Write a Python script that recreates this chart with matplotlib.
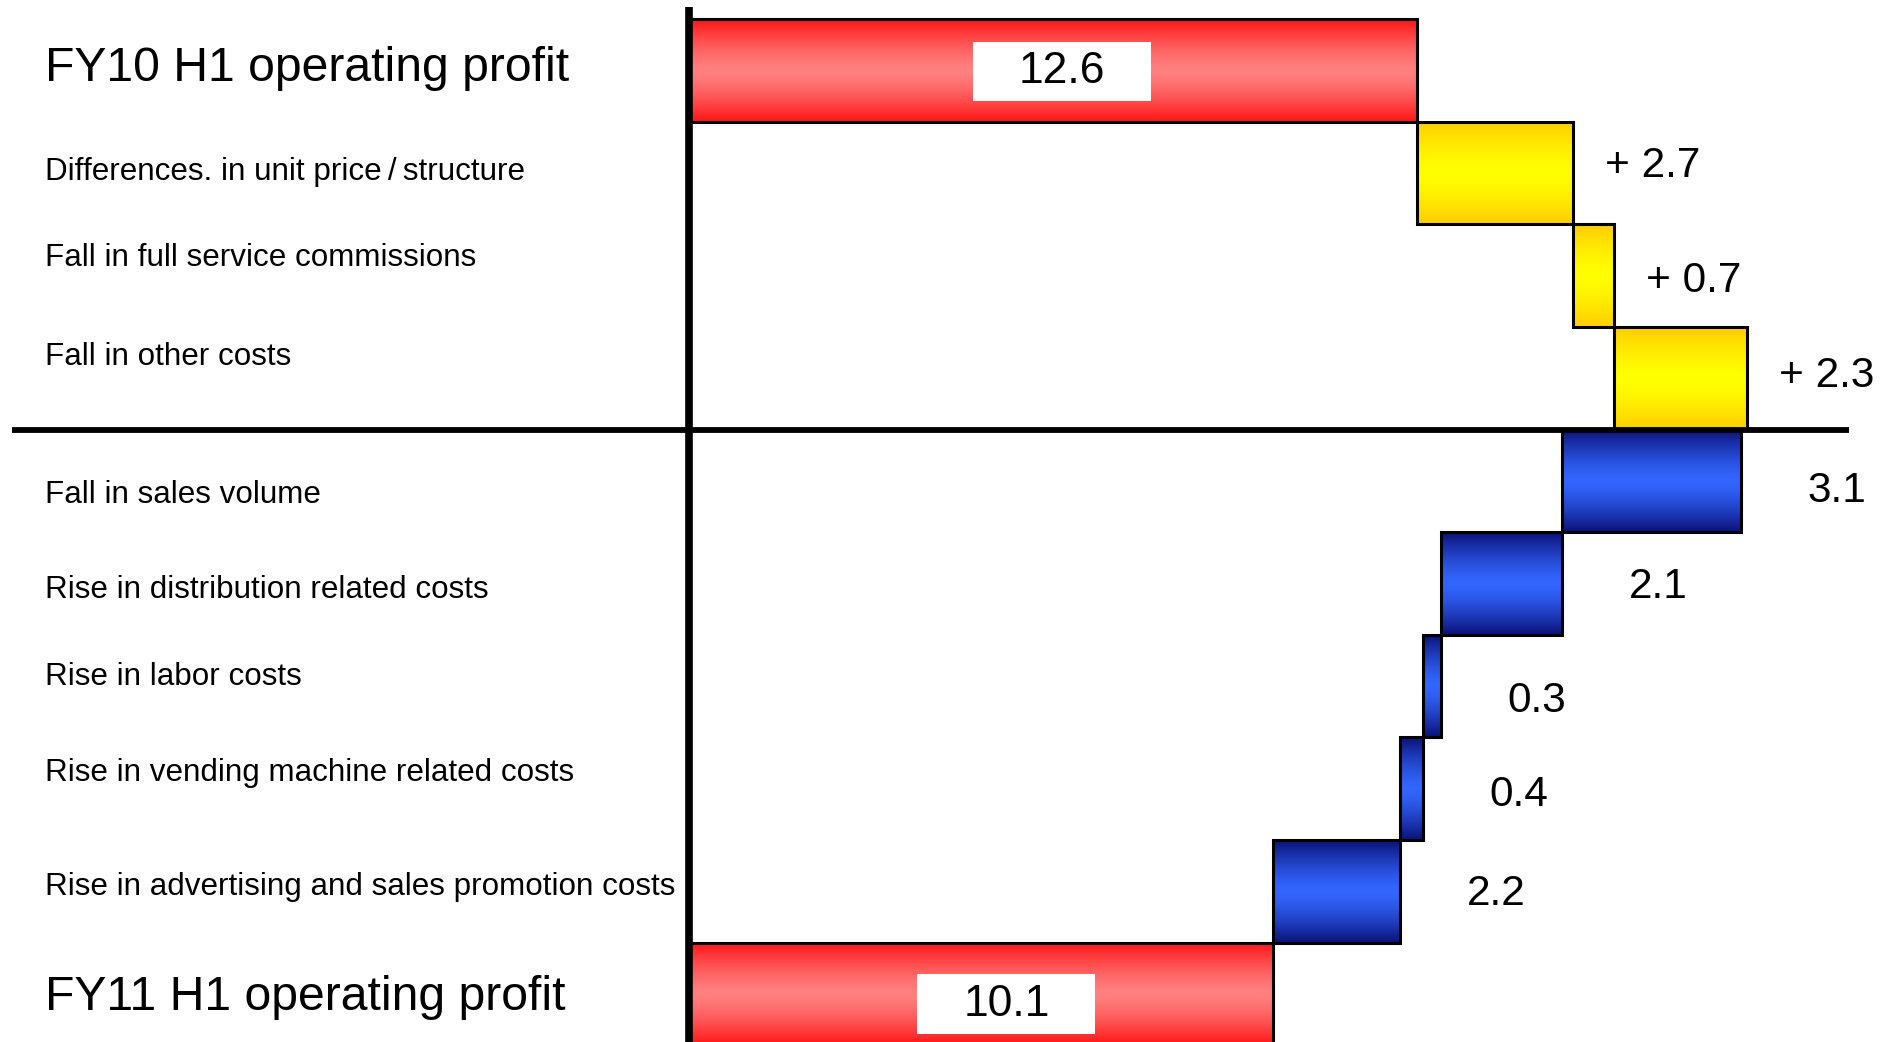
import numpy as np
import matplotlib
matplotlib.use('Agg')
import matplotlib.pyplot as plt
from matplotlib.colors import LinearSegmentedColormap
from matplotlib.patches import Rectangle

# Operating profit bridge, FY10 H1 -> FY11 H1 (billion yen)
labels = [
    'FY10 H1 operating profit',
    'Differences. in unit price\u2009/\u2009structure',
    'Fall in full service commissions',
    'Fall in other costs',
    'Fall in sales volume',
    'Rise in distribution related costs',
    'Rise in labor costs',
    'Rise in vending machine related costs',
    'Rise in advertising and sales promotion costs',
    'FY11 H1 operating profit',
]
start_value = 12.6
end_value = 10.1
increases = [2.7, 0.7, 2.3]
decreases = [3.1, 2.1, 0.3, 0.4, 2.2]

# small vertical nudges for the row captions / value captions
label_nudge = [-0.02, -0.01, -0.17, -0.21, 0.14, 0.06, -0.09, -0.15, -0.04, 0.03]
value_nudge = [-0.07, 0.05, -0.02, 0.1, 0.03, 0.14, 0.06, 0.03]

font = 'Liberation Sans'

# bar spans: increases stack up from the start, decreases stack back from the end
spans = [(0, start_value)]
pos = start_value
for v in increases:
    spans.append((pos, pos + v))
    pos += v
down = []
pos = end_value
for v in decreases[::-1]:
    down.append((pos, pos + v))
    pos += v
spans += down[::-1]
spans.append((0, end_value))

kinds = ['red'] + ['up'] * len(increases) + ['down'] * len(decreases) + ['red']
cmaps = {
    'red': LinearSegmentedColormap.from_list('r', ['#ff1414', '#ff8080']),
    'up': LinearSegmentedColormap.from_list('y', ['#ffcc00', '#ffff00']),
    'down': LinearSegmentedColormap.from_list('b', ['#0a1278', '#3366ff']),
}
t = np.linspace(-1, 1, 200)
grad = (1 - np.abs(t) ** 1.4).reshape(-1, 1)

fig = plt.figure(figsize=(18.92, 10.42), dpi=100)
ax = fig.add_axes([0, 0, 1, 1])

for i, ((x0, x1), kind) in enumerate(zip(spans, kinds)):
    ax.imshow(grad, extent=[x0, x1, i + 1, i], cmap=cmaps[kind], vmin=0, vmax=1,
              aspect='auto', interpolation='bilinear', zorder=1)
    ax.add_patch(Rectangle((x0, i), x1 - x0, 1, fill=False, edgecolor='black',
                           linewidth=2.2, zorder=2))

# row captions
for i, lab in enumerate(labels):
    big = i in (0, len(labels) - 1)
    ax.text(-11.14, i + 0.5 + label_nudge[i], lab, ha='left', va='center',
            fontsize=34.7 if big else 22.6, family=font)

# step values
for j, v in enumerate(increases):
    i = 1 + j
    ax.text(spans[i][1] + 0.55, i + 0.5 + value_nudge[j], f'+ {v}', ha='left',
            va='center', fontsize=30.5, family=font)
for j, v in enumerate(decreases):
    i = 1 + len(increases) + j
    ax.text(spans[i][1] + 1.15, i + 0.5 + value_nudge[len(increases) + j], f'{v}',
            ha='left', va='center', fontsize=30.5, family=font)

# totals in white boxes
for v, cx, cy in [(start_value, 6.45, 0.51), (end_value, 5.49, 9.6)]:
    ax.add_patch(Rectangle((cx - 1.54, cy - 0.29), 3.08, 0.58, facecolor='white',
                           edgecolor='none', zorder=3))
    ax.text(cx, cy, f'{v}', ha='center', va='center', fontsize=32, family=font, zorder=4)

# axis lines
ax.plot([0, 0], [-0.12, 10.1], color='black', linewidth=5.5, zorder=5, solid_capstyle='butt')
ax.plot([-11.71, 20.07], [4, 4], color='black', linewidth=4.2, zorder=5, solid_capstyle='butt')

ax.set_xlim(-11.92, 20.81)
ax.set_ylim(9.968, -0.188)
ax.axis('off')

fig.savefig('out.png', dpi=100)
